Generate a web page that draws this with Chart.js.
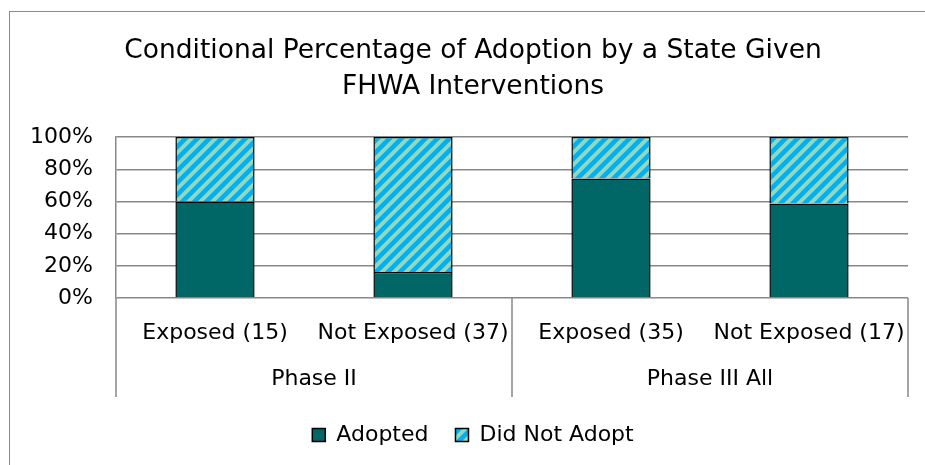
<!DOCTYPE html>
<html>
<head>
<meta charset="utf-8">
<script src="https://cdn.jsdelivr.net/npm/chart.js@4/dist/chart.umd.min.js"></script>
<style>
  html, body { margin: 0; padding: 0; background: #fff; overflow: hidden; }
  #wrap { position: relative; width: 925px; height: 465px; overflow: hidden; }
  #frame { position: absolute; left: 9px; top: 11px; width: 2000px; height: 2000px; border: 1.5px solid #8c8c8c; }
  #c { position: absolute; left: 0; top: 0; }
</style>
</head>
<body>
<div id="wrap">
  <div id="frame"></div>
  <canvas id="c" width="946" height="465"></canvas>
</div>
<script>
// データ
const categories = ["Exposed (15)", "Not Exposed (37)", "Exposed (35)", "Not Exposed (17)"];
const phases = ["Phase II", "Phase III All"];
const adopted = [60.0, 16.2, 74.3, 58.8];
const notAdopted = [40.0, 83.8, 25.7, 41.2];
const yTicks = [0, 20, 40, 60, 80, 100];

// 斜線パターン（Did Not Adopt）
function stripes() {
  const p = document.createElement("canvas");
  p.width = 12;
  p.height = 12;
  const g = p.getContext("2d");
  g.fillStyle = "#98d6b8";
  g.fillRect(0, 0, 12, 12);
  g.strokeStyle = "#00b0f0";
  g.lineWidth = 4.5;
  g.beginPath();
  g.moveTo(-6, 6); g.lineTo(6, -6);
  g.moveTo(0, 12); g.lineTo(12, 0);
  g.moveTo(6, 18); g.lineTo(18, 6);
  g.stroke();
  return g.createPattern(p, "repeat");
}

// グループの区切り線
const groupLines = {
  id: "groupLines",
  afterDraw(chart) {
    const { ctx, chartArea, scales } = chart;
    const x = scales.x, x2 = scales.x2;
    const mid = (x2.getPixelForTick(0) + x2.getPixelForTick(1)) / 2;
    ctx.save();
    ctx.strokeStyle = "#888";
    ctx.lineWidth = 1.5;
    ctx.beginPath();
    [x.left, mid, x.right].forEach(function (px) {
      ctx.moveTo(px, chartArea.bottom);
      ctx.lineTo(px, x2.bottom);
    });
    ctx.stroke();
    ctx.restore();
  }
};

Chart.defaults.font.family = "'DejaVu Sans', sans-serif";
Chart.defaults.color = "#000";

const hatch = stripes();

new Chart(document.getElementById("c").getContext("2d"), {
  type: "bar",
  data: {
    labels: categories,
    datasets: [
      {
        label: "Adopted",
        data: adopted,
        backgroundColor: "#006666",
        borderColor: "#000",
        borderWidth: 1.5
      },
      {
        label: "Did Not Adopt",
        data: notAdopted,
        backgroundColor: hatch,
        borderColor: "#000",
        borderWidth: 1.5
      }
    ]
  },
  options: {
    responsive: false,
    animation: false,
    layout: { padding: { left: 0, right: 0, top: 0, bottom: 9 } },
    datasets: { bar: { categoryPercentage: 1, barPercentage: 0.4 } },
    scales: {
      x: {
        stacked: true,
        grid: { display: false, drawTicks: false },
        border: { display: false },
        ticks: { font: { size: 22 }, padding: 22, maxRotation: 0, autoSkip: false },
        afterFit: function (s) { s.height = 50; }
      },
      x2: {
        type: "category",
        position: "bottom",
        labels: phases,
        offset: true,
        grid: { display: false, drawTicks: false },
        border: { display: false },
        ticks: { font: { size: 22 }, padding: 18, maxRotation: 0 },
        afterFit: function (s) { s.height = 49; }
      },
      y: {
        stacked: true,
        min: 0,
        max: 100,
        afterBuildTicks: function (s) { s.ticks = yTicks.map(function (v) { return { value: v }; }); },
        grid: { color: "#888", lineWidth: 1.5, drawTicks: false },
        border: { color: "#888", width: 1.5 },
        ticks: {
          font: { size: 22 },
          padding: 23,
          callback: function (v) { return v + "%"; }
        },
        afterFit: function (s) { s.width = 116; }
      },
      // 右側の余白用（表示なし）
      yR: {
        position: "right",
        grid: { display: false, drawTicks: false },
        border: { display: false },
        ticks: { display: false },
        afterFit: function (s) { s.width = 38; }
      }
    },
    plugins: {
      title: {
        display: true,
        text: ["Conditional Percentage of Adoption by a State Given", "FHWA Interventions"],
        color: "#000",
        font: { size: 26.5, weight: "normal", lineHeight: 1.36 },
        padding: { top: 33, bottom: 32 }
      },
      legend: {
        position: "bottom",
        labels: {
          font: { size: 22 },
          boxWidth: 13,
          boxHeight: 13,
          padding: 27,
          color: "#000"
        }
      },
      tooltip: { enabled: false }
    }
  },
  plugins: [groupLines]
});
</script>
</body>
</html>
